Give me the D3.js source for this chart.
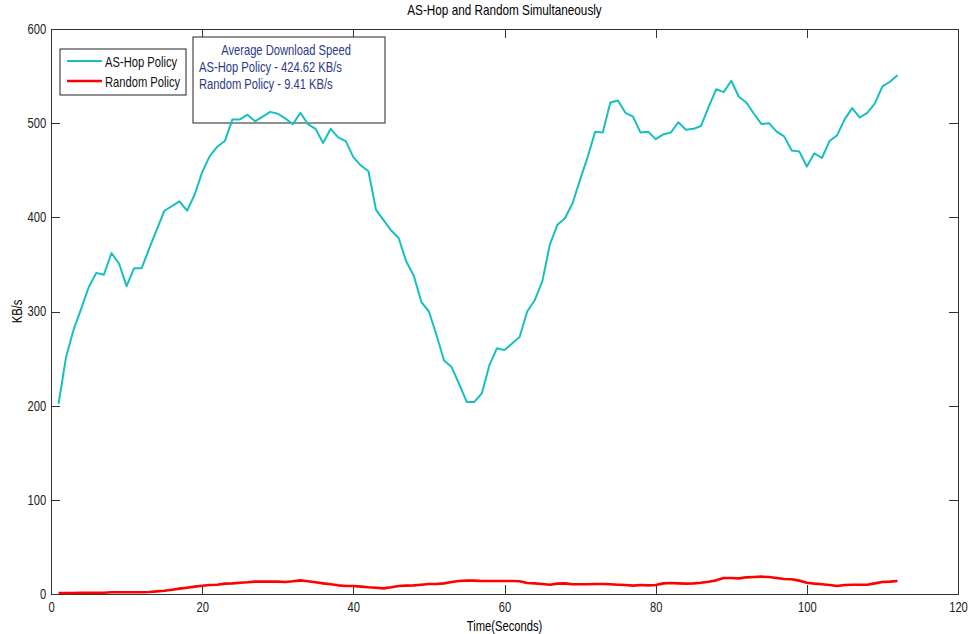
<!DOCTYPE html>
<meta charset="utf-8">

<style type="text/css">
body {
    margin: 0;
    background: #fff;
}

text {
    font-family: "Liberation Sans", Arial, sans-serif;
    font-size: 14px;
}

/* box axes, ticks point inward like the original plot */
.axis path,
.axis line {
    stroke: #333;
    shape-rendering: crispEdges;
}

.axis text {
    fill: #222;
}

.line {
    fill: none;
    stroke-linejoin: round;
}

.hop {
    stroke: #17bfbf;
    stroke-width: 2;
}

.rnd {
    stroke: #ff0000;
    stroke-width: 2.6;
}

.note text {
    fill: #2a3a88;
}
</style>
<body>
</body>

<script src="https://d3js.org/d3.v7.min.js"></script>
<script>

// margins so the plot box sits where the original one is
var margin = {top: 29, right: 11, bottom: 40, left: 51}
  , width = 969 - margin.left - margin.right
  , height = 634 - margin.top - margin.bottom;

// the original font is narrow, so text gets squeezed horizontally
var squeeze = 0.8;

// time in seconds
var seconds = [
  1, 2, 3, 4, 5, 6, 7, 8, 9, 10, 11, 12, 13, 14, 15, 16, 17, 18, 19, 20,
  21, 22, 23, 24, 25, 26, 27, 28, 29, 30, 31, 32, 33, 34, 35, 36, 37, 38, 39, 40,
  41, 42, 43, 44, 45, 46, 47, 48, 49, 50, 51, 52, 53, 54, 55, 56, 57, 58, 59, 60,
  61, 62, 63, 64, 65, 66, 67, 68, 69, 70, 71, 72, 73, 74, 75, 76, 77, 78, 79, 80,
  81, 82, 83, 84, 85, 86, 87, 88, 89, 90, 91, 92, 93, 94, 95, 96, 97, 98, 99, 100,
  101, 102, 103, 104, 105, 106, 107, 108, 109, 110, 111, 112
];

// AS-Hop policy download speed (KB/s)
var asHop = [
  202, 252, 281, 303, 326, 341, 339, 362, 351, 327, 346, 346, 367, 387, 407, 412, 417, 407, 424, 448,
  465, 475, 481, 504, 504, 509, 502, 507, 512, 510, 505, 499, 511, 499, 494, 479, 494, 485, 481, 464,
  455, 449, 408, 397, 386, 378, 353, 338, 310, 300, 275, 248, 241, 223, 204, 204, 213, 243, 261, 259,
  266, 273, 300, 312, 332, 371, 392, 399, 415, 440, 464, 491, 490, 522, 524, 511, 507, 490, 491, 483,
  488, 490, 501, 493, 494, 497, 517, 536, 533, 545, 528, 522, 510, 499, 500, 491, 486, 471, 470, 454,
  468, 463, 481, 487, 504, 516, 506, 511, 521, 539, 544, 551
];

// Random policy download speed (KB/s)
var random = [
  1.1, 1.1, 1.1, 1.4, 1.4, 1.4, 1.4, 1.8, 1.8, 1.8, 1.8, 1.8, 2.1, 2.8, 3.5, 4.6, 5.7, 6.7, 7.8, 8.8,
  9.6, 9.9, 11.0, 11.3, 12.0, 12.4, 13.1, 13.1, 13.1, 13.1, 12.7, 13.5, 14.5, 13.5, 12.4, 11.3, 10.3, 9.2, 8.5, 8.5,
  7.8, 7.1, 6.7, 6.0, 7.1, 8.5, 8.9, 9.2, 9.9, 10.6, 10.6, 11.3, 12.7, 13.8, 14.2, 14.2, 13.8, 13.8, 13.8, 13.8,
  13.8, 13.5, 11.7, 11.3, 10.6, 9.9, 11.0, 11.3, 10.3, 10.3, 10.3, 10.6, 10.6, 10.3, 9.9, 9.6, 8.9, 9.6, 9.2, 9.6,
  11.3, 11.7, 11.3, 11.0, 11.3, 12.0, 13.1, 14.5, 17.0, 17.0, 16.6, 17.7, 18.1, 18.4, 18.1, 17.0, 15.9, 15.6, 14.2, 12.0,
  11.0, 10.3, 9.6, 8.5, 9.6, 9.9, 9.9, 9.9, 11.3, 12.7, 13.1, 13.8
];

var xTicks = [0, 20, 40, 60, 80, 100, 120];
var yTicks = [0, 100, 200, 300, 400, 500, 600];

var seriesNames = ["AS-Hop Policy", "Random Policy"];
var noteLines = ["Average Download Speed", "AS-Hop Policy - 424.62 KB/s", "Random Policy - 9.41 KB/s"];

var xScale = d3.scaleLinear()
    .domain([0, 120])
    .range([0, width]);

var yScale = d3.scaleLinear()
    .domain([0, 600])
    .range([height, 0]);

var line = d3.line()
    .x(function(d, i) { return xScale(seconds[i]); })
    .y(function(d) { return yScale(d); });

// place a squeezed text at x,y
function at(x, y, s) {
    return "translate(" + x + "," + y + ") scale(" + (s || squeeze) + ",1)";
}

var svg = d3.select("body").append("svg")
    .attr("width", width + margin.left + margin.right)
    .attr("height", height + margin.top + margin.bottom)
  .append("g")
    .attr("transform", "translate(" + margin.left + "," + margin.top + ")");

// axes (all four sides, ticks inward)
svg.append("g")
    .attr("class", "x axis")
    .attr("transform", "translate(0," + height + ")")
    .call(d3.axisBottom(xScale).tickValues(xTicks).tickSizeInner(-9).tickSizeOuter(0).tickPadding(8))
  .selectAll("text")
    .attr("transform", "scale(" + squeeze + ",1)");

svg.append("g")
    .attr("class", "y axis")
    .call(d3.axisLeft(yScale).tickValues(yTicks).tickSizeInner(-9).tickSizeOuter(0).tickPadding(6))
  .selectAll("text")
    .attr("transform", "scale(" + squeeze + ",1)");

svg.append("g")
    .attr("class", "axis")
    .call(d3.axisTop(xScale).tickValues(xTicks).tickSizeInner(-9).tickSizeOuter(0).tickFormat(""));

svg.append("g")
    .attr("class", "axis")
    .attr("transform", "translate(" + width + ",0)")
    .call(d3.axisRight(yScale).tickValues(yTicks).tickSizeInner(-9).tickSizeOuter(0).tickFormat(""));

// legend
var legend = svg.append("g")
    .attr("transform", "translate(9,20)");

legend.append("rect")
    .attr("width", 126)
    .attr("height", 46)
    .attr("fill", "#fff")
    .attr("stroke", "#222");

legend.selectAll(".key")
    .data(seriesNames)
  .enter().append("line")
    .attr("class", function(d, i) { return i == 0 ? "hop" : "rnd"; })
    .attr("x1", 7)
    .attr("x2", 42)
    .attr("y1", function(d, i) { return 12 + i * 20; })
    .attr("y2", function(d, i) { return 12 + i * 20; });

legend.selectAll(".lbl")
    .data(seriesNames)
  .enter().append("text")
    .attr("transform", function(d, i) { return at(45, 17.5 + i * 20); })
    .attr("fill", "#111")
    .text(function(d) { return d; });

// average speed note (drawn before the lines, the line runs over it)
var note = svg.append("g")
    .attr("class", "note")
    .attr("transform", "translate(142,8)");

note.append("rect")
    .attr("width", 192)
    .attr("height", 86)
    .attr("fill", "#fff")
    .attr("stroke", "#222");

note.selectAll("text")
    .data(noteLines)
  .enter().append("text")
    .attr("transform", function(d, i) { return at(i == 0 ? 93 : 6, 18 + i * 17); })
    .attr("text-anchor", function(d, i) { return i == 0 ? "middle" : "start"; })
    .text(function(d) { return d; });

// lines
svg.append("path")
    .datum(asHop)
    .attr("class", "line hop")
    .attr("d", line);

svg.append("path")
    .datum(random)
    .attr("class", "line rnd")
    .attr("d", line);

// title and axis labels
svg.append("text")
    .attr("transform", at(width / 2, -14, 0.84))
    .attr("text-anchor", "middle")
    .text("AS-Hop and Random Simultaneously");

svg.append("text")
    .attr("transform", at(width / 2, height + 37))
    .attr("text-anchor", "middle")
    .text("Time(Seconds)");

svg.append("text")
    .attr("transform", "translate(-29," + (height / 2) + ") rotate(-90) scale(" + squeeze + ",1)")
    .attr("text-anchor", "middle")
    .text("KB/s");

</script>
